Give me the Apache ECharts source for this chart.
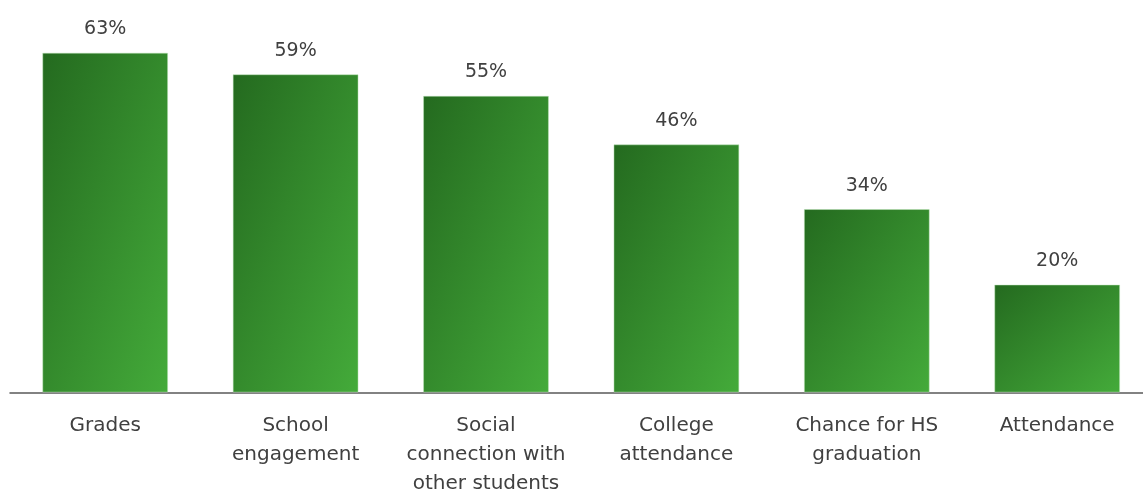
<!DOCTYPE html>
<html>
<head>
<meta charset="utf-8">
<script src="https://cdn.jsdelivr.net/npm/echarts@6/dist/echarts.min.js"></script>
<style>
html,body{margin:0;padding:0;background:#fff;}
#chart{width:1143px;height:493px;}
</style>
</head>
<body>
<div id="chart"></div>
<script>
const categories = ["Grades", "School\nengagement", "Social\nconnection with\nother students", "College\nattendance", "Chance for HS\ngraduation", "Attendance"];
const values = [63, 59, 55, 46, 34, 20];

const chart = echarts.init(document.getElementById('chart'));
const fontFamily = "'DejaVu Sans', sans-serif";
const barGap = 0.34;

function baseOption(data) {
  return {
    animation: false,
    grid: { left: 10, width: 1142.4, top: 15, height: 377.5, outerBoundsMode: 'none', containLabel: false },
    xAxis: {
      type: 'category',
      data: categories,
      axisLine: { lineStyle: { color: '#595959', width: 1.5 } },
      axisTick: { show: false },
      axisLabel: {
        interval: 0,
        color: '#404040',
        fontFamily: fontFamily,
        fontSize: 20,
        lineHeight: 29,
        margin: 19
      }
    },
    yAxis: {
      type: 'value',
      min: 0, max: 70,
      show: false,
      splitLine: { show: false }
    },
    series: [{
      type: 'bar',
      data: data,
      barCategoryGap: (barGap * 100) + '%',
      itemStyle: {
        color: '#35922D',
        borderColor: 'rgba(190,230,185,0.6)',
        borderWidth: 0.8
      },
      label: {
        show: true,
        position: 'top',
        distance: 14,
        formatter: '{c}%',
        color: '#404040',
        fontFamily: fontFamily,
        fontSize: 19
      }
    }]
  };
}

chart.setOption(baseOption(values));

// Build per-bar diagonal gradients whose isolines follow the bar's anti-diagonal
const base = chart.convertToPixel({ seriesIndex: 0 }, [0, 0]);
const next = chart.convertToPixel({ seriesIndex: 0 }, [1, 0]);
const bandW = Math.abs(next[0] - base[0]);
const w = bandW * (1 - barGap);
const data = values.map(function (v, i) {
  const top = chart.convertToPixel({ seriesIndex: 0 }, [i, v]);
  const h = Math.abs(base[1] - top[1]);
  const d = h * h + w * w;
  const x2 = 2 * h * h / d;
  const y2 = 2 * w * w / d;
  return {
    value: v,
    itemStyle: {
      color: new echarts.graphic.LinearGradient(0, 0, x2, y2, [
        { offset: 0, color: '#246A1F' },
        { offset: 1, color: '#44AB3A' }
      ])
    }
  };
});
chart.setOption(baseOption(data));
</script>
</body>
</html>
